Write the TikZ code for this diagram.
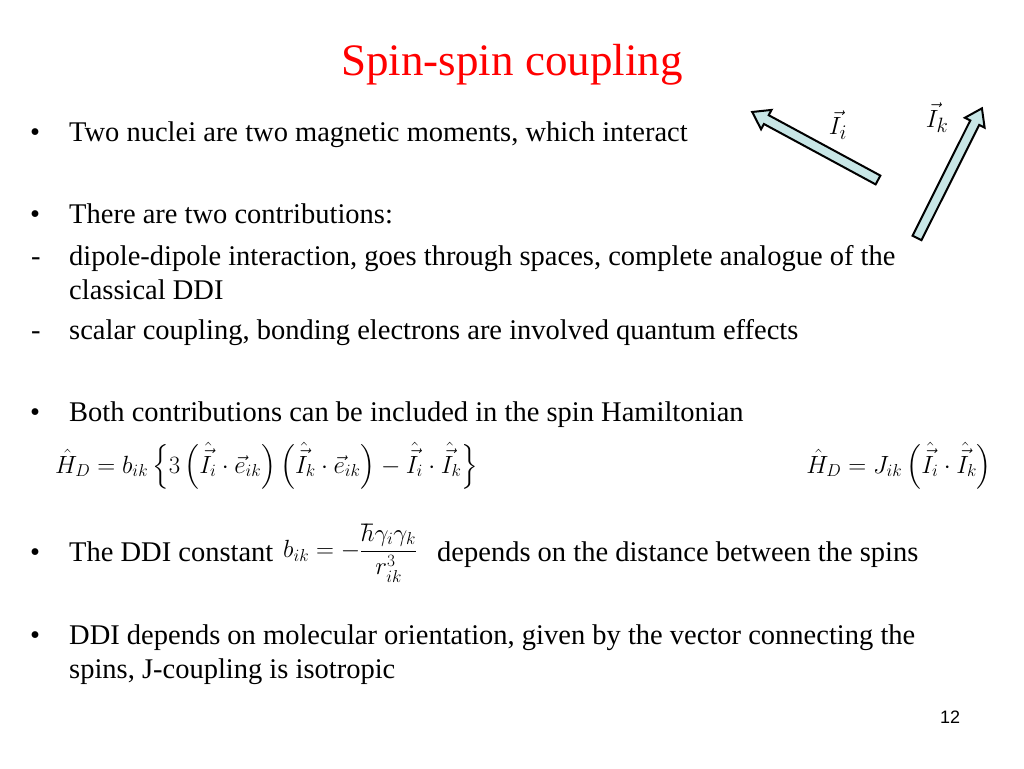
\documentclass[tikz,border=0pt]{standalone}
\usepackage{fontspec}
\setmainfont{Liberation Serif}
\usepackage{amsmath}
\definecolor{spinfill}{RGB}{200,230,230}
\begin{document}
\begin{tikzpicture}[x=1pt,y=1pt,
  txt/.style={anchor=base west,inner sep=0pt,font=\fontsize{28.5}{34}\selectfont},
  spinarrow/.style={draw=black,line width=2pt,fill=spinfill,line join=miter}]
\useasboundingbox (0,0) rectangle (1024,768);
\node[inner sep=0pt,text=red,font=\fontsize{45}{50}\selectfont] (title) at (512,703) {Spin-spin coupling};
% arrows
\begin{scope}[shift={(878,588)},rotate=151.6]
 \draw[spinarrow] (0,-5)--(127,-5)--(127,-11)--(143,0)--(127,11)--(127,5)--(0,5)--cycle;
\end{scope}
\begin{scope}[shift={(917,530)},rotate=63.4]
 \draw[spinarrow] (0,-5)--(129,-5)--(129,-11)--(145,0)--(129,11)--(129,5)--(0,5)--cycle;
\end{scope}
\node[inner sep=0pt,font=\fontsize{30}{34}\selectfont] (Ii) at (838,643) {$\vec I_i$};
\node[inner sep=0pt,font=\fontsize{30}{34}\selectfont] (Ik) at (937,650) {$\vec I_k$};
% bullets
\node[txt] (b1) at (30,626) {•};
\node[txt] (t1) at (69,626) {Two nuclei are two magnetic moments, which interact};
\node[txt] (b2) at (30,544) {•};
\node[txt] (t2) at (69,544) {There are two contributions:};
\node[txt] (d1) at (31,502) {-};
\node[txt] (t3) at (69,502) {dipole-dipole interaction, goes through spaces, complete analogue of the};
\node[txt] (t4) at (69,468) {classical DDI};
\node[txt] (d2) at (31,428) {-};
\node[txt] (t5) at (69,428) {scalar coupling, bonding electrons are involved quantum effects};
\node[txt] (b3) at (30,346) {•};
\node[txt] (t6) at (69,346) {Both contributions can be included in the spin Hamiltonian};
\node[anchor=west,inner sep=0pt,font=\fontsize{23}{28}\selectfont] (eq1) at (55,302)
 {$\hat H_D = b_{ik}\left\{3\left(\hat{\vec I}_i\cdot\vec e_{ik}\right)\left(\hat{\vec I}_k\cdot\vec e_{ik}\right)-\hat{\vec I}_i\cdot\hat{\vec I}_k\right\}$};
\node[anchor=east,inner sep=0pt,font=\fontsize{23}{28}\selectfont] (eq2) at (992,302)
 {$\hat H_D = J_{ik}\left(\hat{\vec I}_i\cdot\hat{\vec I}_k\right)$};
\node[txt] (b4) at (30,206) {•};
\node[txt] (t7) at (69,206) {The DDI constant};
\node[anchor=west,inner sep=0pt,font=\fontsize{23}{28}\selectfont] (eq3) at (283,215)
 {$b_{ik}=-\dfrac{\hbar\gamma_i\gamma_k}{r_{ik}^3}$};
\node[txt] (t8) at (437,206) {depends on the distance between the spins};
\node[txt] (b5) at (30,124) {•};
\node[txt] (t9) at (69,124) {DDI depends on molecular orientation, given by the vector connecting the};
\node[txt] (t10) at (69,90) {spins, J-coupling is isotropic};
\node[inner sep=0pt,font=\fontsize{18}{22}\selectfont\fontspec{Liberation Sans}] (pg) at (950,51) {12};
\end{tikzpicture}
\end{document}
